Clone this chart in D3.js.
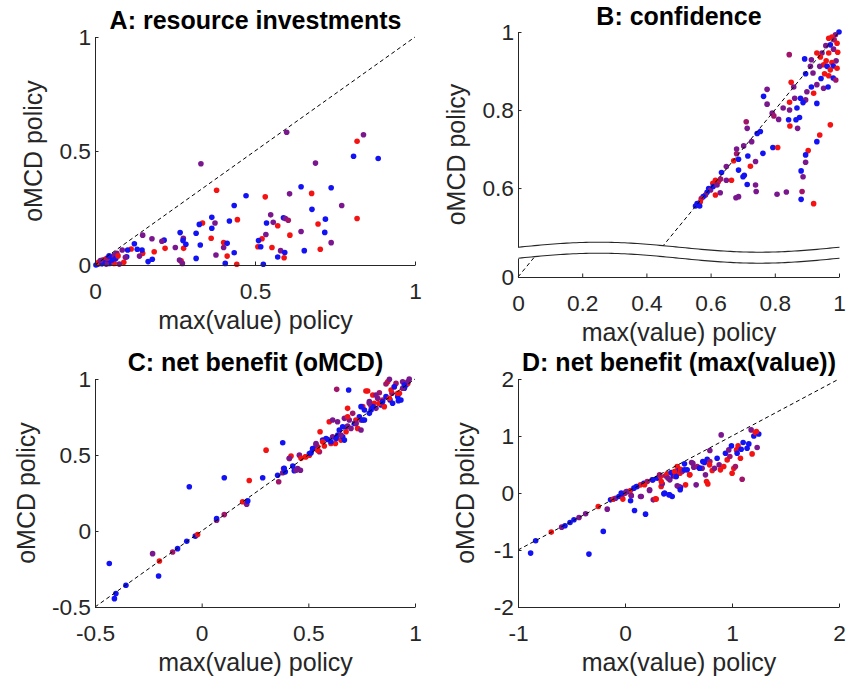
<!DOCTYPE html>
<html>
<head>
<meta charset="utf-8">
<script src="https://cdn.jsdelivr.net/npm/d3@7"></script>
<style>
  body { margin: 0; background: #fff; }
  svg text { font-family: "Liberation Sans", Arial, Helvetica, sans-serif; }
</style>
</head>
<body>
<svg id="fig" width="862" height="683"></svg>
<script>
// ---------- data: [max(value) policy, oMCD policy, group] ----------
const resourcePoints = [
  [0.599,0.582,"p"],[0.839,0.571,"p"],[0.819,0.543,"r"],[0.808,0.477,"b"],[0.885,0.467,"b"],
  [0.331,0.444,"p"],[0.689,0.447,"p"],[0.380,0.328,"r"],[0.472,0.304,"b"],[0.532,0.299,"r"],
  [0.608,0.312,"p"],[0.644,0.343,"b"],[0.677,0.314,"r"],[0.738,0.339,"b"],[0.771,0.261,"p"],
  [0.435,0.261,"b"],[0.819,0.204,"r"],[0.678,0.244,"b"],[0.365,0.209,"b"],[0.375,0.184,"p"],
  [0.420,0.193,"b"],[0.445,0.199,"r"],[0.336,0.184,"r"],[0.326,0.178,"b"],[0.365,0.161,"b"],
  [0.266,0.142,"b"],[0.316,0.139,"b"],[0.549,0.220,"p"],[0.536,0.184,"b"],[0.557,0.187,"p"],
  [0.571,0.172,"r"],[0.589,0.207,"b"],[0.595,0.204,"p"],[0.604,0.196,"m"],[0.644,0.147,"p"],
  [0.609,0.131,"r"],[0.720,0.201,"b"],[0.697,0.180,"r"],[0.718,0.143,"b"],[0.534,0.134,"p"],
  [0.522,0.115,"r"],[0.511,0.107,"b"],[0.509,0.080,"r"],[0.518,0.080,"b"],[0.553,0.077,"r"],
  [0.580,0.063,"p"],[0.593,0.055,"b"],[0.591,0.032,"r"],[0.571,0.035,"b"],[0.654,0.063,"b"],
  [0.704,0.069,"r"],[0.738,0.098,"p"],[0.526,0.003,"b"],[0.443,0.003,"r"],[0.407,0.007,"b"],
  [0.435,0.054,"b"],[0.413,0.039,"r"],[0.402,0.077,"p"],[0.402,0.099,"r"],[0.413,0.095,"b"],
  [0.378,0.044,"p"],[0.363,0.117,"r"],[0.329,0.088,"b"],[0.316,0.029,"b"],[0.277,0.073,"r"],
  [0.284,0.091,"b"],[0.276,0.117,"p"],[0.275,0.107,"b"],[0.269,0.018,"r"],[0.264,0.022,"p"],
  [0.251,0.077,"p"],[0.273,0.007,"p"],[0.219,0.073,"r"],[0.216,0.109,"b"],[0.209,0.104,"p"],
  [0.185,0.058,"r"],[0.179,0.025,"b"],[0.178,0.115,"p"],[0.166,0.015,"b"],[0.149,0.051,"r"],
  [0.149,0.131,"p"],[0.147,0.066,"b"],[0.123,0.093,"b"],[0.132,0.069,"b"],[0.139,0.039,"p"],
  [0.113,0.070,"r"],[0.102,0.066,"b"],[0.099,0.036,"b"],[0.095,0.034,"p"],[0.085,0.066,"p"],
  [0.090,0.012,"r"],[0.068,0.051,"p"],[0.076,0.004,"p"],[0.014,0.007,"b"],[0.019,0.015,"r"],
  [0.024,0.022,"p"],[0.032,0.025,"r"],[0.040,0.015,"b"],[0.048,0.029,"p"],[0.055,0.036,"r"],
  [0.060,0.044,"p"],[0.045,0.007,"b"],[0.008,0.003,"p"],[0.029,0.010,"b"],[0.003,0.000,"b"],
  [0.060,0.007,"r"],[0.053,0.022,"b"],[0.035,0.004,"p"],[0.011,0.012,"r"],[0.022,0.005,"b"],
  [0.038,0.030,"m"],[0.065,0.028,"b"],[0.072,0.040,"r"],[0.017,0.020,"p"],[0.044,0.040,"b"]
];

const confidencePoints = [
  [1.000,1.000,"b"],[0.989,0.993,"p"],[0.978,0.987,"r"],[0.968,0.984,"r"],[0.985,0.980,"m"],
  [0.994,0.971,"r"],[0.973,0.967,"b"],[0.959,0.965,"p"],[0.983,0.956,"p"],[0.996,0.948,"r"],
  [0.947,0.946,"p"],[0.968,0.946,"r"],[0.931,0.946,"r"],[0.845,0.942,"m"],[0.942,0.936,"r"],
  [0.893,0.931,"b"],[0.914,0.929,"p"],[0.960,0.926,"r"],[0.991,0.926,"p"],[0.978,0.922,"r"],
  [0.952,0.916,"r"],[0.940,0.912,"p"],[0.963,0.912,"b"],[0.982,0.913,"b"],[0.911,0.912,"p"],
  [0.994,0.907,"r"],[0.973,0.903,"r"],[0.919,0.895,"p"],[0.896,0.893,"b"],[0.955,0.893,"r"],
  [0.968,0.888,"r"],[0.944,0.881,"b"],[0.982,0.882,"b"],[0.990,0.877,"m"],[0.851,0.871,"r"],
  [0.931,0.865,"p"],[0.914,0.859,"b"],[0.952,0.856,"p"],[0.966,0.859,"b"],[0.859,0.859,"p"],
  [0.776,0.853,"p"],[0.900,0.847,"p"],[0.921,0.843,"r"],[0.862,0.830,"p"],[0.765,0.835,"b"],
  [0.880,0.830,"b"],[0.896,0.826,"p"],[0.888,0.819,"b"],[0.931,0.817,"b"],[0.776,0.815,"p"],
  [0.846,0.820,"r"],[0.826,0.805,"p"],[0.869,0.805,"b"],[0.846,0.800,"p"],[0.792,0.792,"p"],
  [0.797,0.785,"m"],[0.812,0.776,"p"],[0.843,0.775,"b"],[0.877,0.781,"b"],[0.866,0.775,"b"],
  [0.847,0.759,"r"],[0.871,0.753,"p"],[0.973,0.762,"r"],[0.711,0.770,"m"],[0.714,0.753,"p"],
  [0.755,0.745,"b"],[0.745,0.740,"b"],[0.728,0.719,"p"],[0.940,0.736,"r"],[0.931,0.719,"b"],
  [0.703,0.708,"p"],[0.794,0.704,"b"],[0.809,0.704,"r"],[0.681,0.700,"p"],[0.763,0.689,"b"],
  [0.904,0.696,"r"],[0.681,0.688,"m"],[0.716,0.682,"b"],[0.896,0.685,"b"],[0.672,0.670,"r"],
  [0.687,0.674,"b"],[0.740,0.668,"p"],[0.649,0.655,"p"],[0.724,0.656,"r"],[0.896,0.666,"p"],
  [0.687,0.646,"b"],[0.634,0.640,"b"],[0.665,0.620,"r"],[0.705,0.633,"b"],[0.701,0.629,"b"],
  [0.649,0.620,"p"],[0.882,0.644,"b"],[0.888,0.629,"p"],[0.615,0.620,"r"],[0.624,0.616,"r"],
  [0.631,0.623,"m"],[0.607,0.612,"r"],[0.714,0.609,"b"],[0.740,0.608,"p"],[0.630,0.588,"p"],
  [0.615,0.582,"r"],[0.742,0.591,"p"],[0.807,0.584,"p"],[0.836,0.590,"p"],[0.885,0.591,"m"],
  [0.679,0.575,"p"],[0.687,0.578,"p"],[0.882,0.571,"b"],[0.921,0.560,"r"],[0.594,0.599,"b"],
  [0.600,0.595,"p"],[0.589,0.589,"b"],[0.584,0.582,"p"],[0.577,0.578,"b"],[0.571,0.573,"m"],
  [0.568,0.565,"r"],[0.558,0.560,"b"],[0.553,0.554,"b"],[0.566,0.554,"b"],[0.608,0.604,"b"],
  [0.620,0.608,"p"]
];

const benefitOmcdPoints = [
  [-0.433,-0.214,"b"],[-0.409,-0.445,"b"],[-0.402,-0.412,"b"],[-0.355,-0.357,"b"],[-0.230,-0.149,"p"],
  [-0.198,-0.197,"r"],[-0.202,-0.296,"b"],[-0.136,-0.138,"m"],[-0.113,-0.116,"b"],[-0.070,-0.067,"b"],
  [-0.058,0.291,"b"],[-0.030,-0.034,"b"],[-0.019,-0.023,"r"],[0.070,0.071,"m"],[0.070,0.082,"b"],
  [0.106,0.108,"m"],[0.106,0.350,"b"],[0.192,0.192,"r"],[0.211,0.176,"p"],[0.216,0.198,"b"],
  [0.223,0.332,"r"],[0.286,0.350,"b"],[0.302,0.532,"r"],[0.356,0.367,"b"],[0.361,0.324,"m"],
  [0.380,0.581,"b"],[0.380,0.383,"p"],[0.384,0.411,"p"],[0.392,0.389,"b"],[0.411,0.477,"m"],
  [0.419,0.493,"r"],[0.427,0.427,"b"],[0.434,0.396,"b"],[0.450,0.411,"p"],[0.463,0.400,"p"],
  [0.458,0.499,"p"],[0.486,0.488,"r"],[0.505,0.499,"r"],[0.513,0.515,"b"],[0.528,0.543,"p"],
  [0.536,0.576,"p"],[0.544,0.554,"r"],[0.552,0.521,"m"],[0.555,0.653,"r"],[0.567,0.598,"b"],
  [0.575,0.559,"r"],[0.591,0.602,"b"],[0.598,0.719,"r"],[0.606,0.576,"r"],[0.614,0.620,"p"],
  [0.627,0.576,"r"],[0.633,0.932,"m"],[0.638,0.631,"b"],[0.645,0.664,"b"],[0.653,0.598,"r"],
  [0.661,0.620,"b"],[0.669,0.741,"p"],[0.669,0.598,"b"],[0.677,0.682,"b"],[0.684,0.690,"p"],
  [0.684,0.807,"r"],[0.689,0.928,"b"],[0.692,0.730,"p"],[0.700,0.675,"p"],[0.708,0.774,"m"],
  [0.716,0.708,"b"],[0.731,0.675,"r"],[0.739,0.752,"b"],[0.747,0.730,"p"],[0.755,0.818,"r"],
  [0.763,0.796,"b"],[0.770,0.921,"r"],[0.778,0.921,"r"],[0.786,0.851,"p"],[0.786,0.774,"b"],
  [0.794,0.822,"m"],[0.802,0.895,"r"],[0.809,0.840,"r"],[0.817,0.807,"p"],[0.825,0.873,"p"],
  [0.833,0.910,"m"],[0.841,0.829,"b"],[0.848,0.862,"r"],[0.856,0.818,"r"],[0.864,0.884,"b"],
  [0.872,0.982,"r"],[0.880,0.998,"p"],[0.883,0.862,"b"],[0.892,0.906,"m"],[0.903,0.949,"r"],
  [0.911,0.971,"m"],[0.919,0.884,"b"],[0.927,0.906,"r"],[0.934,0.862,"b"],[0.942,0.982,"p"],
  [0.950,0.939,"b"],[0.958,0.960,"b"],[0.973,1.000,"p"],[0.966,0.971,"r"],[0.888,0.928,"r"],
  [0.802,0.818,"b"],[0.747,0.664,"p"],[0.723,0.730,"r"],[0.763,0.730,"b"],[0.833,0.840,"r"],
  [0.817,0.895,"p"],[0.864,0.967,"m"],[0.903,0.949,"b"],[0.919,0.906,"r"],[0.942,0.939,"p"],
  [0.966,0.982,"p"],[0.950,0.960,"b"],[0.848,0.851,"b"],[0.880,0.873,"r"],[0.895,0.840,"b"],
  [0.922,0.857,"b"],[0.786,0.840,"p"],[0.794,0.796,"b"],[0.747,0.818,"b"],[0.755,0.730,"b"],
  [0.724,0.708,"p"],[0.684,0.752,"r"],[0.661,0.686,"b"],[0.637,0.719,"p"],[0.614,0.730,"p"],
  [0.677,0.653,"r"],[0.653,0.631,"p"],[0.630,0.609,"b"],[0.606,0.587,"b"],[0.583,0.609,"b"],
  [0.567,0.587,"r"],[0.536,0.565,"p"],[0.520,0.543,"b"],[0.544,0.532,"r"],[0.505,0.510,"b"],
  [0.489,0.488,"r"],[0.466,0.478,"r"],[0.411,0.478,"p"],[0.442,0.400,"p"],[0.387,0.412,"b"]
];

const benefitMaxPoints = [
  [-0.882,-1.054,"b"],[-0.835,-0.838,"b"],[-0.689,-0.686,"r"],[-0.592,-0.599,"p"],[-0.561,-0.575,"b"],
  [-0.514,-0.517,"b"],[-0.477,-0.470,"b"],[-0.430,-0.429,"p"],[-0.368,-0.365,"p"],[-0.337,-1.072,"b"],
  [-0.250,-0.236,"r"],[-0.203,-0.674,"b"],[-0.166,-0.283,"p"],[-0.135,-0.120,"b"],[-0.110,-0.108,"r"],
  [-0.088,-0.091,"p"],[-0.057,-0.061,"b"],[-0.026,-0.032,"b"],[-0.001,-0.003,"m"],[0.021,0.026,"b"],
  [0.052,0.044,"r"],[0.052,-0.137,"b"],[0.058,-0.044,"p"],[0.083,0.085,"b"],[0.089,-0.307,"b"],
  [0.114,0.114,"p"],[0.145,0.143,"r"],[0.145,-0.061,"p"],[0.176,0.172,"b"],[0.192,-0.371,"b"],
  [0.208,0.201,"m"],[0.229,0.044,"p"],[0.254,0.231,"p"],[0.264,-0.120,"p"],[0.285,-0.102,"r"],
  [0.301,0.260,"b"],[0.332,0.289,"r"],[0.338,0.114,"r"],[0.348,0.161,"p"],[0.363,-0.015,"b"],
  [0.379,0.301,"m"],[0.394,0.336,"r"],[0.410,-0.032,"b"],[0.419,0.231,"p"],[0.432,0.359,"b"],
  [0.441,-0.061,"b"],[0.450,0.301,"b"],[0.472,0.376,"b"],[0.472,0.289,"r"],[0.488,0.464,"r"],
  [0.488,0.126,"p"],[0.503,0.394,"b"],[0.513,0.347,"r"],[0.519,0.417,"r"],[0.519,0.102,"b"],
  [0.534,0.376,"m"],[0.556,0.511,"b"],[0.566,0.143,"r"],[0.581,0.406,"b"],[0.606,0.318,"r"],
  [0.622,0.534,"p"],[0.643,0.453,"p"],[0.665,0.143,"p"],[0.675,0.464,"m"],[0.699,0.435,"b"],
  [0.721,0.435,"p"],[0.743,0.534,"b"],[0.752,0.318,"p"],[0.768,0.593,"b"],[0.762,0.201,"r"],
  [0.774,0.160,"r"],[0.793,0.745,"p"],[0.793,0.552,"m"],[0.815,0.394,"r"],[0.836,0.435,"p"],
  [0.861,0.610,"b"],[0.880,0.493,"p"],[0.899,1.019,"p"],[0.892,0.406,"r"],[0.923,0.464,"r"],
  [0.939,0.698,"b"],[0.955,0.581,"r"],[0.970,0.756,"p"],[0.980,0.640,"m"],[0.995,0.826,"b"],
  [1.001,0.347,"r"],[1.017,0.435,"r"],[1.032,0.464,"m"],[1.042,0.756,"r"],[1.048,0.698,"b"],
  [1.057,0.826,"r"],[1.079,0.610,"r"],[1.086,0.768,"b"],[1.095,0.242,"m"],[1.104,0.885,"b"],
  [1.141,0.785,"b"],[1.157,0.861,"b"],[1.179,1.107,"p"],[1.188,0.686,"r"],[1.204,1.001,"b"],
  [1.219,1.060,"r"],[1.235,0.797,"p"],[1.250,1.036,"b"],[1.228,1.077,"r"],
  [-0.020,-0.107,"r"],[0.059,-0.049,"p"],[-0.035,0.000,"b"],[0.012,0.026,"p"],[0.152,-0.061,"p"],
  [0.106,0.114,"b"],[0.183,0.144,"r"],[0.230,0.056,"p"],[0.261,0.231,"b"],[0.292,-0.107,"r"],
  [0.323,0.319,"m"],[0.339,0.202,"r"],[0.370,0.000,"b"],[0.401,0.261,"p"],[0.417,-0.030,"b"],
  [0.463,0.377,"r"],[0.479,0.289,"b"],[0.503,0.114,"p"],[0.516,0.056,"b"],[0.556,0.406,"b"],
  [0.603,0.319,"r"],[0.634,0.523,"p"],[0.697,0.436,"b"],[0.727,0.552,"b"],[0.790,0.494,"r"]
];

// ---------- tick values and labels ----------
const ticksA = [0, 0.5, 1],              labelsA = ["0", "0.5", "1"];
const ticksBx = [0, 0.2, 0.4, 0.6, 0.8, 1], labelsBx = ["0", "0.2", "0.4", "0.6", "0.8", "1"];
const ticksByUpper = [0.6, 0.8, 1],      labelsByUpper = ["0.6", "0.8", "1"];
const ticksByLower = [0],                labelsByLower = ["0"];
const ticksC = [-0.5, 0, 0.5, 1],        labelsC = ["-0.5", "0", "0.5", "1"];
const ticksD = [-1, 0, 1, 2],            labelsDx = ["-1", "0", "1", "2"];
const ticksDy = [-2, -1, 0, 1, 2],       labelsDy = ["-2", "-1", "0", "1", "2"];

const titles = ["A: resource investments", "B: confidence",
                "C: net benefit (oMCD)", "D: net benefit (max(value))"];
const xLabel = "max(value) policy", yLabel = "oMCD policy";

// ---------- styling ----------
const groupColors = { b: "#1212f4", r: "#f41212", p: "#7a168e", m: "#a0146a" };
const AXIS = "#262626";
const TICK_FONT = 22.7, LABEL_FONT = 25;
const TICK_LEN = 3.5;
const DOT_R = 2.8;

const svg = d3.select("#fig");

function styleAxis(sel) {
  sel.attr("font-family", null).attr("font-size", null);
  sel.select(".domain").attr("stroke", AXIS).attr("stroke-width", 1);
  sel.selectAll(".tick line").attr("stroke", AXIS).attr("stroke-width", 1);
  sel.selectAll(".tick text").attr("fill", AXIS).style("font-size", TICK_FONT + "px");
}

function bottomAxis(g, x, yPos, values, labels) {
  g.append("g").attr("transform", `translate(0,${yPos})`)
    .call(d3.axisBottom(x).tickValues(values).tickFormat((d, i) => labels[i])
      .tickSize(-TICK_LEN).tickSizeOuter(0).tickPadding(18))
    .call(styleAxis);
}

function leftAxis(g, y, xPos, values, labels) {
  g.append("g").attr("transform", `translate(${xPos},0)`)
    .call(d3.axisLeft(y).tickValues(values).tickFormat((d, i) => labels[i])
      .tickSize(-TICK_LEN).tickSizeOuter(0).tickPadding(4))
    .call(styleAxis);
}

function addTexts(g, cx, cy, titleText, titleY, xLabelY, yLabelX) {
  g.append("text").attr("x", cx).attr("y", titleY).attr("text-anchor", "middle")
    .style("font-size", LABEL_FONT + "px").style("font-weight", "bold").attr("fill", "#000")
    .text(titleText);
  g.append("text").attr("x", cx).attr("y", xLabelY).attr("text-anchor", "middle")
    .style("font-size", LABEL_FONT + "px").attr("fill", AXIS).text(xLabel);
  g.append("text").attr("transform", `translate(${yLabelX},${cy}) rotate(-90)`)
    .attr("text-anchor", "middle").style("font-size", LABEL_FONT + "px")
    .attr("fill", AXIS).text(yLabel);
}

function drawDots(g, pts, x, y) {
  g.append("g").selectAll("circle").data(pts).join("circle")
    .attr("cx", d => x(d[0])).attr("cy", d => y(d[1])).attr("r", DOT_R)
    .attr("fill", d => groupColors[d[2]]);
}

function identityLine(g, x, y, lo, hi) {
  g.append("line")
    .attr("x1", x(lo)).attr("y1", y(lo)).attr("x2", x(hi)).attr("y2", y(hi))
    .attr("stroke", "#000").attr("stroke-width", 1).attr("stroke-dasharray", "4,3");
}

// generic square scatter panel
function scatterPanel(cfg) {
  const g = svg.append("g");
  const x = d3.scaleLinear().domain(cfg.xDomain).range([cfg.left, cfg.right]);
  const y = d3.scaleLinear().domain(cfg.yDomain).range([cfg.bottom, cfg.top]);
  drawDots(g, cfg.points, x, y);
  identityLine(g, x, y, cfg.line[0], cfg.line[1]);
  bottomAxis(g, x, cfg.bottom, cfg.xTicks, cfg.xLabels);
  leftAxis(g, y, cfg.left, cfg.yTicks, cfg.yLabels);
  addTexts(g, (cfg.left + cfg.right) / 2 + 0.5, (cfg.top + cfg.bottom) / 2,
           cfg.title, cfg.titleY, cfg.bottom + 64, cfg.yLabelX);
}

// A
scatterPanel({
  left: 95, right: 415, top: 37, bottom: 265,
  xDomain: [0, 1], yDomain: [0, 1], line: [0, 1],
  xTicks: ticksA, xLabels: labelsA, yTicks: ticksA, yLabels: labelsA,
  points: resourcePoints, title: titles[0], titleY: 29, yLabelX: 42
});

// C
scatterPanel({
  left: 95, right: 415, top: 379, bottom: 607,
  xDomain: [-0.5, 1], yDomain: [-0.5, 1], line: [-0.5, 1],
  xTicks: ticksC, xLabels: labelsC, yTicks: ticksC, yLabels: labelsC,
  points: benefitOmcdPoints, title: titles[2], titleY: 371, yLabelX: 35
});

// D
scatterPanel({
  left: 518, right: 839, top: 379, bottom: 607,
  xDomain: [-1, 2], yDomain: [-2, 2], line: [-1, 2],
  xTicks: ticksD, xLabels: labelsDx, yTicks: ticksDy, yLabels: labelsDy,
  points: benefitMaxPoints, title: titles[3], titleY: 371, yLabelX: 474
});

// B: y axis with a break between the low end and the 0.45–1 range
(function confidencePanel() {
  const left = 518, right = 839, bottom = 277, top = 32;
  const g = svg.append("g");
  const x = d3.scaleLinear().domain([0, 1]).range([left, right]);
  const pxPerUnit = (bottom - top) / 0.628;            // shared vertical scale
  const upperBreak = 247.2, lowerBreak = 258.2;       // pixel rows where the break starts
  const yUpper = d3.scaleLinear().domain([1, 0]).range([top, top + pxPerUnit]);
  yUpper.domain([yUpper.invert(upperBreak), 1]).range([upperBreak, top]);
  const yLower = d3.scaleLinear().domain([0, 1]).range([bottom, bottom - pxPerUnit]);
  yLower.domain([0, yLower.invert(lowerBreak)]).range([bottom, lowerBreak]);

  drawDots(g, confidencePoints, x, yUpper);
  identityLine(g, x, yUpper, yUpper.domain()[0], 1);
  identityLine(g, x, yLower, 0, 0.07);

  // wavy break band
  const wave = (c) => d3.range(0, 1.0001, 0.01).map(t =>
    [left + 0.5 + t * (right - left), c - 5 * Math.sin(2 * Math.PI * t)]);
  const upperWave = wave(upperBreak), lowerWave = wave(lowerBreak);
  const line = d3.line();
  g.append("path").attr("d", line(upperWave.concat(lowerWave.slice().reverse())) + "Z")
    .attr("fill", "#fff");
  [upperWave, lowerWave].forEach(w => g.append("path").attr("d", line(w))
    .attr("fill", "none").attr("stroke", AXIS).attr("stroke-width", 1.1));

  bottomAxis(g, x, bottom, ticksBx, labelsBx);
  leftAxis(g, yUpper, left, ticksByUpper, labelsByUpper);
  leftAxis(g, yLower, left, ticksByLower, labelsByLower);
  addTexts(g, (left + right) / 2 + 0.5, (top + bottom) / 2, titles[1], 25, bottom + 64, 465);
})();
</script>
</body>
</html>
